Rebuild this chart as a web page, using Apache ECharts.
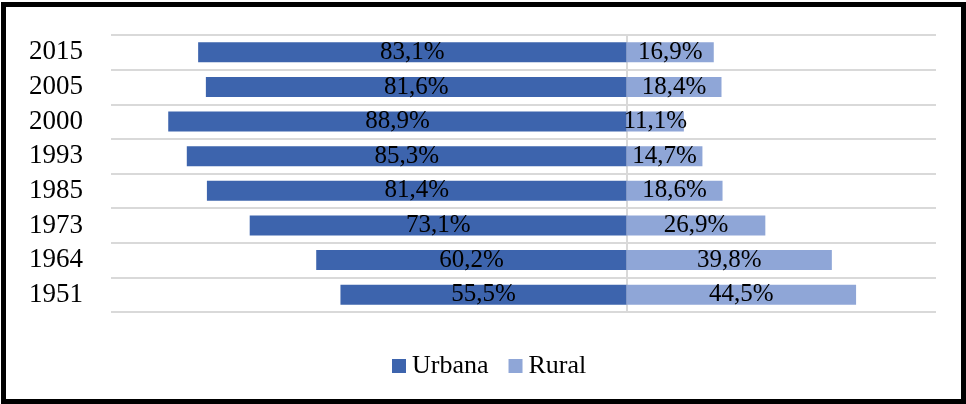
<!DOCTYPE html>
<html>
<head>
<meta charset="utf-8">
<script src="https://cdn.jsdelivr.net/npm/echarts@6/dist/echarts.min.js"></script>
<style>
  html, body { margin: 0; padding: 0; background: #fff; }
  #chart { width: 966px; height: 404px; }
</style>
</head>
<body>
<div id="chart"></div>
<script>
// categories listed from bottom to top
var years = ['1951', '1964', '1973', '1985', '1993', '2000', '2005', '2015'];
var urbana = [55.5, 60.2, 73.1, 81.4, 85.3, 88.9, 81.6, 83.1];
var rural = [44.5, 39.8, 26.9, 18.6, 14.7, 11.1, 18.4, 16.9];

var serif = '"Liberation Serif", "Times New Roman", serif';
var fmt = function (p) {
    return Math.abs(p.value).toFixed(1).replace('.', ',') + '%';
};

var chart = echarts.init(document.getElementById('chart'));
chart.setOption({
    backgroundColor: '#fff',
    animation: false,
    textStyle: { fontFamily: serif, color: '#000' },
    grid: { left: 111, right: 30, top: 35, bottom: 92 },
    legend: {
        bottom: 20,
        left: 387,
        icon: 'rect',
        itemWidth: 14,
        itemHeight: 14,
        itemGap: 20,
        textStyle: { fontFamily: serif, fontSize: 26, color: '#000', padding: [0, 0, 0, 1] },
        data: ['Urbana', 'Rural']
    },
    xAxis: {
        type: 'value',
        min: -100,
        max: 60,
        show: false
    },
    yAxis: {
        type: 'category',
        data: years,
        axisTick: { show: false },
        axisLine: { show: true, onZero: true, lineStyle: { color: '#d9d9d9', width: 2 } },
        splitLine: { show: true, interval: 0, lineStyle: { color: '#d9d9d9', width: 2 } },
        axisLabel: { interval: 0, fontFamily: serif, fontSize: 27, color: '#000', margin: 28 }
    },
    graphic: [{
        type: 'rect',
        shape: { x: 3.5, y: 4.5, width: 960, height: 397 },
        style: { fill: 'none', stroke: '#000', lineWidth: 5 },
        z: 100
    }],
    series: [{
        name: 'Urbana',
        type: 'bar',
        stack: 'total',
        barWidth: 20,
        itemStyle: { color: '#3d64ad' },
        label: { show: true, position: 'inside', formatter: fmt, fontFamily: serif, fontSize: 25, color: '#000' },
        data: urbana.map(function (v) { return -v; })
    }, {
        name: 'Rural',
        type: 'bar',
        stack: 'total',
        barWidth: 20,
        itemStyle: { color: '#8fa6d7' },
        label: { show: true, position: 'inside', formatter: fmt, fontFamily: serif, fontSize: 25, color: '#000' },
        data: rural
    }]
});
</script>
</body>
</html>
